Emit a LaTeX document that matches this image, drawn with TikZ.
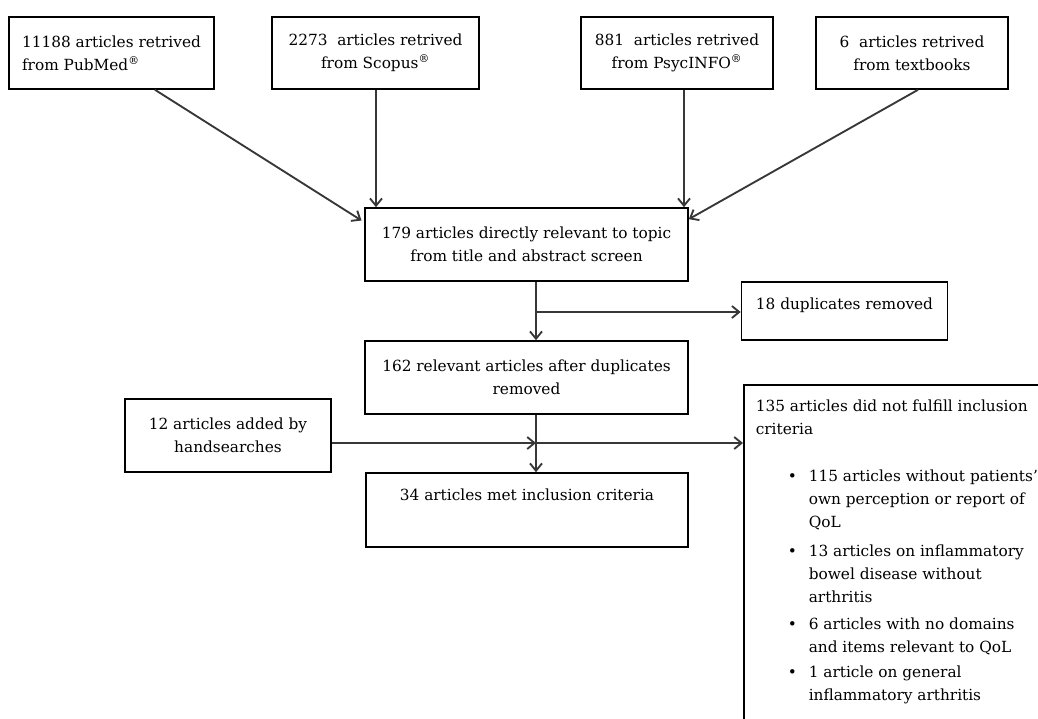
\documentclass[tikz,border=0pt]{standalone}
\usepackage{fontspec}
\setmainfont{DejaVu Serif}
\usetikzlibrary{arrows.meta}
\definecolor{lncol}{RGB}{55,55,55}
\begin{document}
\begin{tikzpicture}[x=0.75pt,y=-0.75pt,
  box/.style={draw=black, line width=1.2pt, align=center, inner sep=0pt,
    font=\fontsize{11.5}{17.25}\selectfont},
  conn/.style={draw=lncol, line width=1.4pt,
    -{Straight Barb[length=5.5pt,width=9pt,line width=1.4pt]}}]
\useasboundingbox (0,0) rectangle (1038,718);

\node[box, minimum width=153.75pt, minimum height=54pt, align=left] (A) at (111.5,53)
  {11188 articles retrived\\from PubMed\textsuperscript{®}};
\node[box, minimum width=155.25pt, minimum height=54pt] (B) at (375.5,53)
  {2273\ \ articles retrived\\from Scopus\textsuperscript{®}};
\node[box, minimum width=144pt, minimum height=54pt] (C) at (677,53)
  {881\ \ articles retrived\\from PsycINFO\textsuperscript{®}};
\node[box, minimum width=144pt, minimum height=54pt] (D) at (912,53)
  {6\ \ articles retrived\\from textbooks};
\node[box, minimum width=242.25pt, minimum height=54.75pt] (E) at (526.5,244.5)
  {179 articles directly relevant to topic\\from title and abstract screen};
\node[box, minimum width=154.5pt, minimum height=43.5pt] (F) at (844.5,311)
  {\raisebox{1.5pt}[0pt][0pt]{18 duplicates removed}};
\node[box, minimum width=242.25pt, minimum height=54.75pt] (G) at (526.5,377.5)
  {162 relevant articles after duplicates\\removed};
\node[box, minimum width=154.5pt, minimum height=54.75pt] (H) at (228,435.5)
  {12 articles added by\\handsearches};
\node[box, minimum width=241.5pt, minimum height=55.5pt] (I) at (527,510)
  {\raisebox{7pt}[0pt][0pt]{34 articles met inclusion criteria}};
\node[box, anchor=north west, align=left, inner xsep=9pt, inner ysep=11pt] (J) at (743,384)
  {\parbox[t][240pt][t]{215pt}{\raggedright\fontsize{11.5}{17.25}\selectfont
   135 articles did not fulfill inclusion\\
   criteria\par\vspace{18.5pt}
   {\leftskip=39.75pt
   \noindent\llap{\textbullet\hspace{9pt}}115 articles without patients’\\
   own perception or report of\\
   QoL\par\vspace{4pt}
   \noindent\llap{\textbullet\hspace{9pt}}13 articles on inflammatory\\
   bowel disease without\\
   arthritis\par\vspace{3pt}
   \noindent\llap{\textbullet\hspace{9pt}}6 articles with no domains\\
   and items relevant to QoL\par\vspace{2pt}
   \noindent\llap{\textbullet\hspace{9pt}}1 article on general\\
   inflammatory arthritis\par}}};

\coordinate (vx) at (536,0);
\coordinate (bx) at (376,0);
\coordinate (cx) at (684,0);
\coordinate (by) at (0,312);
\coordinate (hy) at (0,443);

\draw[conn] ([xshift=32.6pt]A.south) -- ([yshift=18pt,xshift=-2pt]E.west);
\draw[conn] (B.south -| bx) -- (E.north -| bx);
\draw[conn] (C.south -| cx) -- (E.north -| cx);
\draw[conn] ([xshift=4.5pt]D.south) -- ([yshift=19pt]E.east);
\draw[conn] (E.south -| vx) -- (G.north -| vx);
\draw[conn] (vx |- by) -- (F.west |- by);
\draw[conn] (G.south -| vx) -- (I.north -| vx);
\draw[conn] (H.east |- hy) -- (vx |- hy);
\draw[conn] (vx |- hy) -- (J.west |- hy);
\end{tikzpicture}
\end{document}
